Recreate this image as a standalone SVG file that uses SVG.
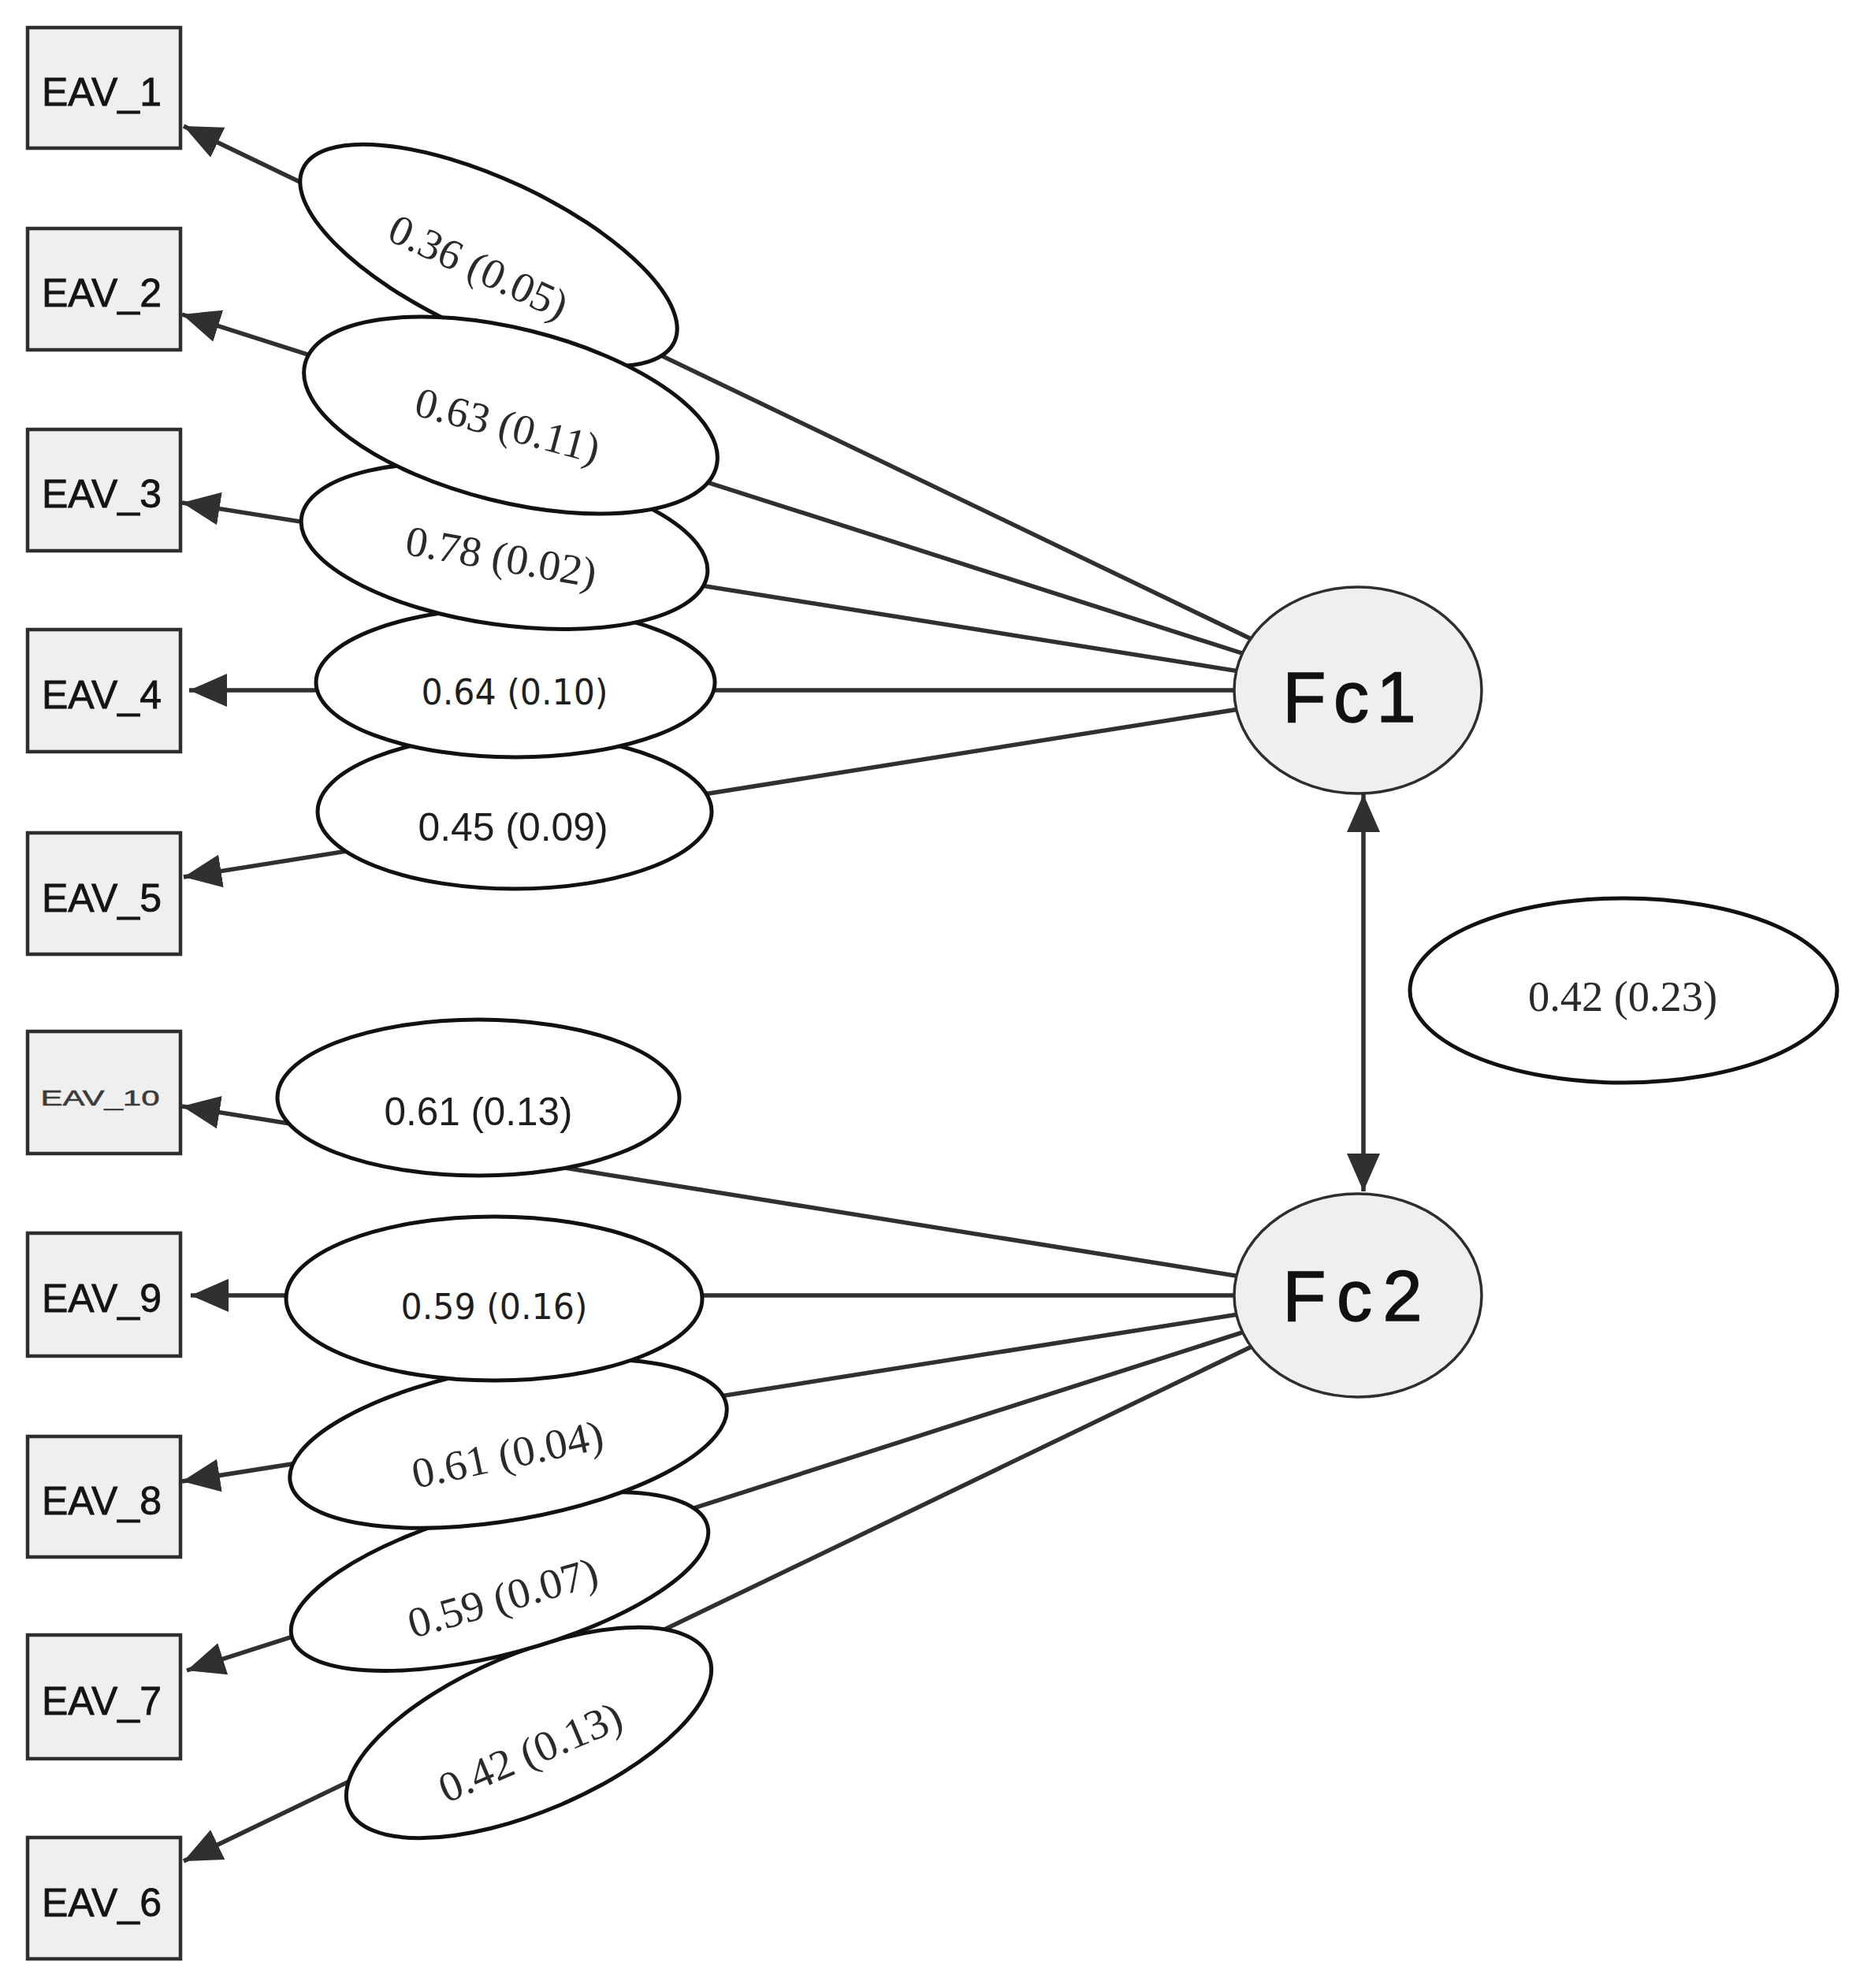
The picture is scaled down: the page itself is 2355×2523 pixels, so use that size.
<svg xmlns="http://www.w3.org/2000/svg" width="2355" height="2523" viewBox="0 0 2355 2523">
<style>
.box{fill:#efefef;stroke:#2e2e2e;stroke-width:4.5}
.btxt{font-family:"Liberation Sans",Arial,sans-serif;font-size:50px;fill:#141414;stroke:#141414;stroke-width:0.8;text-anchor:middle}
.lat{fill:#efefef;stroke:#2e2e2e;stroke-width:3.5}
.ltxt{font-family:"Liberation Sans",Arial,sans-serif;font-size:90px;fill:#111;stroke:#111;stroke-width:1.5;text-anchor:middle}
.lab{fill:#fff;stroke:#111;stroke-width:5}
.ser{font-family:"Liberation Serif","Times New Roman",serif;font-size:54px;fill:#2a2a2a;text-anchor:middle}
.dj{font-family:"DejaVu Sans",Verdana,sans-serif;font-size:44px;fill:#1e1e1e;text-anchor:middle}
.ls{font-family:"Liberation Sans",Arial,sans-serif;font-size:50px;fill:#1e1e1e;text-anchor:middle}
.edge{stroke:#303030;stroke-width:5.5;fill:none}
</style>
<defs>
<marker id="ah" viewBox="0 0 48 42" refX="48" refY="21" markerWidth="48" markerHeight="42" markerUnits="userSpaceOnUse" orient="auto-start-reverse">
<path d="M0,0 L48,21 L0,42 Z" fill="#303030"/>
</marker>
</defs>
<rect width="2355" height="2523" fill="#fff"/>
<g id="connectors">
<line class="edge" x1="1723" y1="876" x2="233" y2="160" marker-end="url(#ah)"/>
<line class="edge" x1="1723" y1="876" x2="231" y2="399" marker-end="url(#ah)"/>
<line class="edge" x1="1723" y1="876" x2="231" y2="638" marker-end="url(#ah)"/>
<line class="edge" x1="1723" y1="876" x2="240" y2="876" marker-end="url(#ah)"/>
<line class="edge" x1="1723" y1="876" x2="233" y2="1113" marker-end="url(#ah)"/>
<line class="edge" x1="1723" y1="1644" x2="231" y2="1404" marker-end="url(#ah)"/>
<line class="edge" x1="1723" y1="1644" x2="242" y2="1644" marker-end="url(#ah)"/>
<line class="edge" x1="1723" y1="1644" x2="231" y2="1880" marker-end="url(#ah)"/>
<line class="edge" x1="1723" y1="1644" x2="237" y2="2120" marker-end="url(#ah)"/>
<line class="edge" x1="1723" y1="1644" x2="233" y2="2362" marker-end="url(#ah)"/>
<line class="edge" x1="1730" y1="1008" x2="1730" y2="1512" marker-start="url(#ah)" marker-end="url(#ah)"/>
</g>
<g id="label-045">
<ellipse class="lab" cx="653" cy="1030" rx="250" ry="98"/>
<text class="ls" x="651" y="1049" dy="0.35em" textLength="241" lengthAdjust="spacingAndGlyphs">0.45 (0.09)</text>
</g>
<g id="label-064">
<ellipse class="lab" cx="654" cy="866" rx="253" ry="95"/>
<text class="dj" x="653" y="879" dy="0.35em" textLength="237" lengthAdjust="spacingAndGlyphs">0.64 (0.10)</text>
</g>
<g id="label-078">
<ellipse class="lab" cx="0" cy="0" rx="260" ry="100" transform="translate(640 693) rotate(8)"/>
<text class="ser" x="0" y="0" dy="0.33em" textLength="245" lengthAdjust="spacingAndGlyphs" transform="translate(636 707) rotate(10)">0.78 (0.02)</text>
</g>
<g id="label-036">
<ellipse class="lab" cx="0" cy="0" rx="260" ry="97" transform="translate(620 324) rotate(25)"/>
<text class="ser" x="0" y="0" dy="0.33em" textLength="244" lengthAdjust="spacingAndGlyphs" transform="translate(607 339) rotate(25)">0.36 (0.05)</text>
</g>
<g id="label-063">
<ellipse class="lab" cx="0" cy="0" rx="269" ry="110" transform="translate(648 527) rotate(14)"/>
<text class="ser" x="0" y="0" dy="0.33em" textLength="240" lengthAdjust="spacingAndGlyphs" transform="translate(644 540) rotate(15)">0.63 (0.11)</text>
</g>
<g id="label-061a">
<ellipse class="lab" cx="607" cy="1393" rx="255" ry="99"/>
<text class="ls" x="607" y="1410" dy="0.35em" textLength="239" lengthAdjust="spacingAndGlyphs">0.61 (0.13)</text>
</g>
<g id="label-042b">
<ellipse class="lab" cx="0" cy="0" rx="248" ry="100" transform="translate(671 2199) rotate(-23)"/>
<text class="ser" x="0" y="0" dy="0.33em" textLength="247" lengthAdjust="spacingAndGlyphs" transform="translate(673 2224) rotate(-23)">0.42 (0.13)</text>
</g>
<g id="label-059b">
<ellipse class="lab" cx="0" cy="0" rx="273" ry="92" transform="translate(634 2007) rotate(-15)"/>
<text class="ser" x="0" y="0" dy="0.33em" textLength="248" lengthAdjust="spacingAndGlyphs" transform="translate(638 2028) rotate(-16)">0.59 (0.07)</text>
</g>
<g id="label-061b">
<ellipse class="lab" cx="0" cy="0" rx="281" ry="97" transform="translate(645 1832) rotate(-10)"/>
<text class="ser" x="0" y="0" dy="0.33em" textLength="247" lengthAdjust="spacingAndGlyphs" transform="translate(644 1846) rotate(-12)">0.61 (0.04)</text>
</g>
<g id="label-059a">
<ellipse class="lab" cx="627" cy="1648" rx="264" ry="104"/>
<text class="dj" x="627" y="1659" dy="0.35em" textLength="237" lengthAdjust="spacingAndGlyphs">0.59 (0.16)</text>
</g>
<g id="label-042a">
<ellipse class="lab" cx="2060" cy="1257" rx="271" ry="117"/>
<text class="ser" x="2059" y="1265" dy="0.33em" textLength="240" lengthAdjust="spacingAndGlyphs">0.42 (0.23)</text>
</g>
<g id="EAV_1"><rect class="box" x="35" y="35" width="194" height="153"/><text class="btxt" x="129" y="134">EAV_1</text></g>
<g id="EAV_2"><rect class="box" x="35" y="290" width="194" height="154"/><text class="btxt" x="129" y="389">EAV_2</text></g>
<g id="EAV_3"><rect class="box" x="35" y="545" width="194" height="154"/><text class="btxt" x="129" y="644">EAV_3</text></g>
<g id="EAV_4"><rect class="box" x="35" y="799" width="194" height="155"/><text class="btxt" x="129" y="899">EAV_4</text></g>
<g id="EAV_5"><rect class="box" x="35" y="1057" width="194" height="154"/><text class="btxt" x="129" y="1157">EAV_5</text></g>
<g id="EAV_10"><rect class="box" x="35" y="1309" width="194" height="155"/><text class="btxt" x="127" y="1403" style="font-size:27px;fill:#3a3a3a;stroke:#3a3a3a;stroke-width:0.5" textLength="151" lengthAdjust="spacingAndGlyphs">EAV_10</text></g>
<g id="EAV_9"><rect class="box" x="35" y="1565" width="194" height="156"/><text class="btxt" x="129" y="1665">EAV_9</text></g>
<g id="EAV_8"><rect class="box" x="35" y="1823" width="194" height="153"/><text class="btxt" x="129" y="1922">EAV_8</text></g>
<g id="EAV_7"><rect class="box" x="35" y="2075" width="194" height="157"/><text class="btxt" x="129" y="2176">EAV_7</text></g>
<g id="EAV_6"><rect class="box" x="35" y="2332" width="194" height="154"/><text class="btxt" x="129" y="2432">EAV_6</text></g>
<g id="Fc1"><ellipse class="lat" cx="1723" cy="876" rx="157" ry="131"/><text class="ltxt" x="1712" y="916" textLength="169" lengthAdjust="spacing">Fc1</text></g>
<g id="Fc2"><ellipse class="lat" cx="1723" cy="1644" rx="157" ry="129"/><text class="ltxt" x="1716" y="1676" textLength="177" lengthAdjust="spacing">Fc2</text></g>
</svg>
